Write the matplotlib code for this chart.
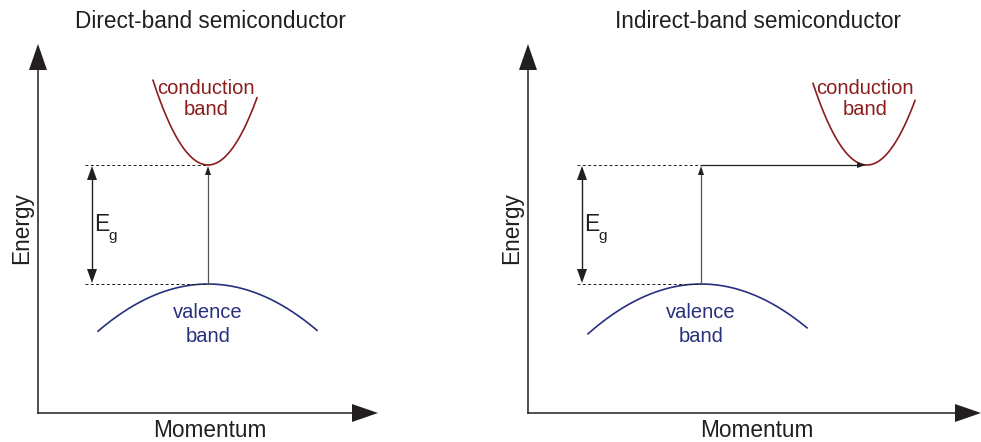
import numpy as np
import matplotlib
matplotlib.use("Agg")
import matplotlib.pyplot as plt

# =========================
# DATA (pixel layout of the schematic)
# =========================
titles = ["Direct-band semiconductor", "Indirect-band semiconductor"]
title_x = [210, 758]
momentum_x = [210, 757]
axis_x = [38, 528]            # energy axis position per panel
axis_end_x = [378, 981]       # tip of momentum arrow
axis_y = 413                  # momentum axis position
axis_top = 44                 # tip of energy arrow

E_c = 165                     # conduction band minimum (screen y)
E_v = 284                     # valence band maximum (screen y)
cond_min_x = [208, 867]
cond_span = [(153, 257), (813, 915)]
cond_curv = 0.028
val_max_x = [208, 701]
val_span = [(98, 317), (588, 807)]
val_curv = 0.0039
eg_x = [92, 582]
dash_start = [85, 577]

RED = "#8b1d1d"
BLUE = "#27307f"
DARK = "#231f20"
GRAY = "#555555"

plt.rcParams["font.family"] = ["Liberation Sans", "DejaVu Sans"]

fig = plt.figure(figsize=(9.81, 4.42), dpi=100)
ax = fig.add_axes([0, 0, 1, 1])
ax.set_xlim(0, 981)
ax.set_ylim(442, 0)
ax.axis("off")


def head(tip, direction, length, width, color):
    # filled triangular arrowhead in pixel space
    tx, ty = tip
    dx, dy = direction
    px, py = -dy, dx
    bx, by = tx - dx * length, ty - dy * length
    ax.fill([tx, bx + px * width / 2, bx - px * width / 2],
            [ty, by + py * width / 2, by - py * width / 2],
            color=color, lw=0, zorder=5)


for i in range(2):
    x0 = axis_x[i]
    # axes
    ax.plot([x0, x0], [axis_y, axis_top + 20], color=DARK, lw=1.1)
    ax.plot([x0, axis_end_x[i] - 20], [axis_y, axis_y], color=DARK, lw=1.1)
    head((x0, axis_top), (0, -1), 26, 18, DARK)
    head((axis_end_x[i], axis_y), (1, 0), 26, 18, DARK)

    # bands
    xc = np.linspace(*cond_span[i], 200)
    ax.plot(xc, E_c - cond_curv * (xc - cond_min_x[i]) ** 2, color=RED, lw=1.2)
    xv = np.linspace(*val_span[i], 200)
    ax.plot(xv, E_v + val_curv * (xv - val_max_x[i]) ** 2, color=BLUE, lw=1.2)

    # dashed reference lines
    ax.plot([dash_start[i], val_max_x[i]], [E_c, E_c], color=DARK, lw=0.7,
            dashes=(3, 2.5))
    ax.plot([dash_start[i], val_max_x[i]], [E_v, E_v], color=DARK, lw=0.7,
            dashes=(3, 2.5))

    # band gap arrow
    ax.plot([eg_x[i], eg_x[i]], [E_c + 10, E_v - 10], color=DARK, lw=1.0)
    head((eg_x[i], E_c + 1), (0, -1), 14, 10, DARK)
    head((eg_x[i], E_v - 1), (0, 1), 14, 10, DARK)
    ax.text(eg_x[i] + 2, 231, "E", fontsize=16.5, color=DARK,
            ha="left", va="baseline")
    ax.text(eg_x[i] + 16, 240, "g", fontsize=11, color=DARK,
            ha="left", va="baseline")

    # transition arrows
    ax.plot([val_max_x[i], val_max_x[i]], [E_v, E_c + 8], color=GRAY, lw=0.9)
    head((val_max_x[i], E_c + 1), (0, -1), 9, 6, DARK)
    if cond_min_x[i] != val_max_x[i]:
        ax.plot([val_max_x[i], cond_min_x[i] - 8], [E_c, E_c], color=DARK, lw=0.9)
        head((cond_min_x[i] - 1, E_c), (1, 0), 9, 6, DARK)

    # labels
    ax.text(cond_min_x[i] - 2, 94, "conduction", fontsize=14.5, color=RED,
            ha="center", va="baseline")
    ax.text(cond_min_x[i] - 2, 115, "band", fontsize=14.5, color=RED,
            ha="center", va="baseline")
    ax.text(val_max_x[i], 318, "valence", fontsize=14.5, color=BLUE,
            ha="center", va="baseline")
    ax.text(val_max_x[i], 342, "band", fontsize=14.5, color=BLUE,
            ha="center", va="baseline")

    ax.text(title_x[i], 28, titles[i], fontsize=16.3, color=DARK,
            ha="center", va="baseline")
    ax.text(momentum_x[i], 437, "Momentum", fontsize=16.3, color=DARK,
            ha="center", va="baseline")
    ax.text(x0 - 16, 228, "Energy", fontsize=16.3, color=DARK,
            rotation=90, ha="center", va="center")

fig.savefig("out.png", dpi=100)
